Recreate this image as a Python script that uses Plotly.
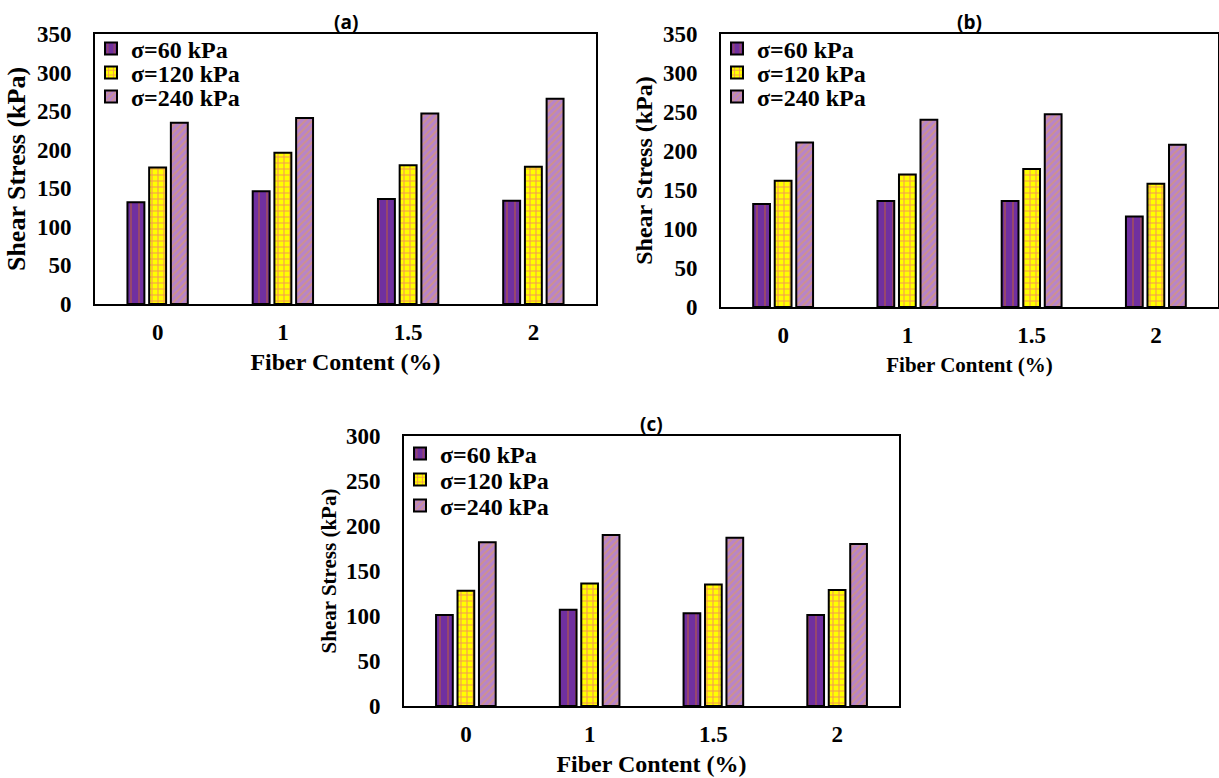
import plotly.graph_objects as go

fiber = ["0", "1", "1.5", "2"]
series_names = ["σ=60 kPa", "σ=120 kPa", "σ=240 kPa"]

# Panel (a)
a_60 = [132, 146, 136, 134]
a_120 = [177, 196, 180, 178]
a_240 = [235, 241, 247, 266]
# Panel (b)
b_60 = [132, 136, 136, 116]
b_120 = [162, 170, 177, 158]
b_240 = [211, 240, 247, 208]
# Panel (c)
c_60 = [101, 107, 103, 101]
c_120 = [128, 136, 135, 129]
c_240 = [182, 190, 187, 180]

panel_titles = ["(a)", "(b)", "(c)"]
x_title = "Fiber Content (%)"
y_title = "Shear Stress (kPa)"

W, H = 1219, 778


def px_x(p):
    return p / W


def px_y(p):
    return 1 - p / H


styles = [
    dict(color="#7030A0", pattern=dict(shape="|", fgcolor="#D2691E", bgcolor="#7030A0",
                                       size=8, solidity=0.2)),
    dict(color="#FFFF00", pattern=dict(shape="+", fgcolor="#E830A8", bgcolor="#FFFF00",
                                       size=6, solidity=0.32)),
    dict(color="#B784C9", pattern=dict(shape="/", fgcolor="#E6A04A", bgcolor="#B784C9",
                                       size=5, solidity=0.35)),
]

panels = [
    dict(data=[a_60, a_120, a_240], xd=(95, 596), yd=(34, 304), ymax=350,
         xt_size=24, yt_size=26, xt_standoff=10, leg_rows=(15, 39, 63)),
    dict(data=[b_60, b_120, b_240], xd=(721, 1218), yd=(34, 307), ymax=350,
         xt_size=21, yt_size=24, xt_standoff=11, leg_rows=(15, 39, 63)),
    dict(data=[c_60, c_120, c_240], xd=(404, 899), yd=(436, 706), ymax=300,
         xt_size=24, yt_size=21, xt_standoff=10, leg_rows=(18, 44, 70)),
]

fig = go.Figure()
tick_font = dict(family="Liberation Serif", size=23, color="black", weight="bold")

layout = dict(width=W, height=H, margin=dict(l=0, r=0, t=0, b=0, autoexpand=False),
              paper_bgcolor="white", plot_bgcolor="white", showlegend=True,
              barmode="group", bargap=0.48, bargroupgap=0.22,
              annotations=[])

leg_idx = 0
for i, p in enumerate(panels):
    sfx = "" if i == 0 else str(i + 1)
    for j, vals in enumerate(p["data"]):
        leg_idx += 1
        leg_name = "legend" if leg_idx == 1 else "legend%d" % leg_idx
        fig.add_trace(go.Bar(
            x=fiber, y=vals, name=series_names[j], showlegend=True,
            xaxis="x" + sfx, yaxis="y" + sfx, legend=leg_name,
            marker=dict(color=styles[j]["color"], pattern=styles[j]["pattern"],
                        line=dict(color="black", width=2)),
        ))
        layout[leg_name] = dict(
            x=px_x(p["xd"][0] - 4), y=px_y(p["yd"][0] + p["leg_rows"][j]),
            xanchor="left", yanchor="middle", visible=True,
            bgcolor="rgba(0,0,0,0)",
            font=dict(family="Liberation Serif", size=24, color="black", weight="bold"),
            itemclick=False, itemdoubleclick=False,
        )
    layout["xaxis" + sfx] = dict(
        domain=[px_x(p["xd"][0]), px_x(p["xd"][1])], anchor="y" + sfx,
        type="category", showline=True, mirror=True, linecolor="black", linewidth=2,
        ticks="", ticklabelstandoff=6, tickfont=tick_font,
        title=dict(text=x_title, standoff=p["xt_standoff"],
                   font=dict(family="Liberation Serif", size=p["xt_size"], color="black",
                             weight="bold")),
        showgrid=False, zeroline=False, fixedrange=True,
    )
    layout["yaxis" + sfx] = dict(
        domain=[px_y(p["yd"][1]), px_y(p["yd"][0])], anchor="x" + sfx,
        range=[0, p["ymax"]], dtick=50, showline=True, mirror=True,
        linecolor="black", linewidth=2, ticks="", ticklabelstandoff=17,
        tickfont=tick_font,
        title=dict(text=y_title, standoff=4,
                   font=dict(family="Liberation Serif", size=p["yt_size"], color="black",
                             weight="bold")),
        showgrid=False, zeroline=False, fixedrange=True,
    )
    layout["annotations"].append(dict(
        text=panel_titles[i], xref="paper", yref="paper",
        x=px_x((p["xd"][0] + p["xd"][1]) / 2), y=px_y(p["yd"][0] + 3),
        xanchor="center", yanchor="bottom", showarrow=False,
        font=dict(family="Open Sans", size=19, color="black", weight="bold"),
    ))

fig.update_layout(**layout)
fig.write_html(
    "out.html",
    config={"displayModeBar": False},
    post_script="document.body.style.margin='0';document.body.style.overflow='hidden';",
)
